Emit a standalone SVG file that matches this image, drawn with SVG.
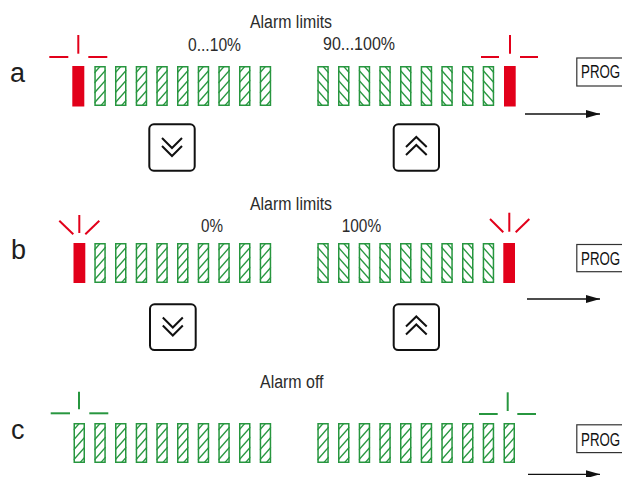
<svg xmlns="http://www.w3.org/2000/svg" xmlns:xlink="http://www.w3.org/1999/xlink" width="622" height="477" viewBox="0 0 622 477">
<style>
  text { font-family: "Liberation Sans", Arial, sans-serif; fill: #2b2b2b; }
  .lbl { font-size: 18px; }
  .big { font-size: 27px; fill: #1e1e1e; }
  .prog { font-size: 18px; fill: #111; }
  .lampR { stroke: #e2001a; stroke-width: 2; fill: none; }
  .lampG { stroke: #27963f; stroke-width: 2; fill: none; }
  .red { fill: #e2001a; }
  .btn { fill: #fff; stroke: #111; stroke-width: 2; }
  .chev { fill: none; stroke: #111; stroke-width: 2; }
  .pbox { fill: #fff; stroke: #333; stroke-width: 1.2; }
  .arr { stroke: #111; stroke-width: 1.3; fill: none; }
</style>
<defs>
  <clipPath id="bc"><rect x="0" y="0" width="11.5" height="40"/></clipPath>
  <g id="barF">
    <g clip-path="url(#bc)" stroke="#27963f" stroke-width="1.3">
      <line x1="0" y1="7" x2="11.5" y2="-6"/>
      <line x1="0" y1="17" x2="11.5" y2="4"/>
      <line x1="0" y1="27" x2="11.5" y2="14"/>
      <line x1="0" y1="37" x2="11.5" y2="24"/>
      <line x1="0" y1="47" x2="11.5" y2="34"/>
    </g>
    <rect x="0.75" y="0.75" width="10" height="38.5" fill="none" stroke="#27963f" stroke-width="1.5"/>
  </g>
  <g id="barB">
    <g clip-path="url(#bc)" stroke="#27963f" stroke-width="1.3">
      <line x1="0" y1="-6" x2="11.5" y2="7"/>
      <line x1="0" y1="4" x2="11.5" y2="17"/>
      <line x1="0" y1="14" x2="11.5" y2="27"/>
      <line x1="0" y1="24" x2="11.5" y2="37"/>
      <line x1="0" y1="34" x2="11.5" y2="47"/>
    </g>
    <rect x="0.75" y="0.75" width="10" height="38.5" fill="none" stroke="#27963f" stroke-width="1.5"/>
  </g>
  <marker id="ah" markerWidth="14" markerHeight="8" refX="14" refY="4" orient="auto" markerUnits="userSpaceOnUse">
    <path d="M0,0 L14,4 L0,8 Z" fill="#111"/>
  </marker>
</defs>

<!-- Row a -->
<g id="row-a">
  <text class="big" x="10" y="82">a</text>
  <text class="lbl" x="250" y="28" textLength="82" lengthAdjust="spacingAndGlyphs">Alarm limits</text>
  <text class="lbl" x="188" y="51" textLength="53" lengthAdjust="spacingAndGlyphs">0...10%</text>
  <text class="lbl" x="323" y="50" textLength="72" lengthAdjust="spacingAndGlyphs">90...100%</text>
  <g id="a-lamp-left">
    <line class="lampR" x1="49.3" y1="57" x2="68.3" y2="57"/>
    <line class="lampR" x1="78.3" y1="35" x2="78.3" y2="53.7"/>
    <line class="lampR" x1="88.3" y1="57" x2="107.3" y2="57"/>
    <rect class="red" x="72.3" y="66" width="12" height="40.5"/>
  </g>
  <g id="a-bars-left" transform="translate(0,66)">
    <use xlink:href="#barF" x="94.3"/><use xlink:href="#barF" x="115"/><use xlink:href="#barF" x="135.7"/>
    <use xlink:href="#barF" x="156.3"/><use xlink:href="#barF" x="177"/><use xlink:href="#barF" x="197.7"/>
    <use xlink:href="#barF" x="218.3"/><use xlink:href="#barF" x="239"/><use xlink:href="#barF" x="259.7"/>
  </g>
  <g id="a-bars-right" transform="translate(0,66)">
    <use xlink:href="#barB" x="317.3"/><use xlink:href="#barB" x="338"/><use xlink:href="#barB" x="358.7"/>
    <use xlink:href="#barB" x="379.3"/><use xlink:href="#barB" x="400"/><use xlink:href="#barB" x="420.7"/>
    <use xlink:href="#barB" x="441.3"/><use xlink:href="#barB" x="462"/><use xlink:href="#barB" x="482.7"/>
  </g>
  <g id="a-lamp-right">
    <line class="lampR" x1="481" y1="57" x2="499" y2="57"/>
    <line class="lampR" x1="510" y1="35" x2="510" y2="53.7"/>
    <line class="lampR" x1="520" y1="57" x2="538" y2="57"/>
    <rect class="red" x="504" y="66" width="11.7" height="40.5"/>
  </g>
  <g id="a-btn-down">
    <rect class="btn" x="149.3" y="124.3" width="45.4" height="46.4" rx="4.5"/>
    <polyline class="chev" points="162,138 172,148 182,138"/>
    <polyline class="chev" points="162,146 172,156 182,146"/>
  </g>
  <g id="a-btn-up">
    <rect class="btn" x="393.7" y="124.3" width="45.3" height="46.4" rx="4.5"/>
    <polyline class="chev" points="406,147 416.3,137 426.7,147"/>
    <polyline class="chev" points="406,155 416.3,145 426.7,155"/>
  </g>
  <g id="a-prog">
    <rect class="pbox" x="576.8" y="58" width="60" height="28"/>
    <text class="prog" transform="translate(581,78) scale(0.74,1)">PROG</text>
  </g>
</g>

<!-- Row b -->
<g id="row-b">
  <text class="big" x="11" y="259">b</text>
  <text class="lbl" x="250" y="210" textLength="82" lengthAdjust="spacingAndGlyphs">Alarm limits</text>
  <text class="lbl" x="201" y="232" textLength="22" lengthAdjust="spacingAndGlyphs">0%</text>
  <text class="lbl" x="341.7" y="232" textLength="39.5" lengthAdjust="spacingAndGlyphs">100%</text>
  <g id="b-lamp-left">
    <line class="lampR" x1="79.3" y1="215" x2="79.3" y2="233"/>
    <line class="lampR" x1="59.3" y1="220.7" x2="73.3" y2="234.3"/>
    <line class="lampR" x1="85.3" y1="234.3" x2="99.3" y2="220.7"/>
    <rect class="red" x="73.5" y="243" width="11.8" height="40"/>
  </g>
  <g id="b-bars-left" transform="translate(0,243)">
    <use xlink:href="#barF" x="94.3"/><use xlink:href="#barF" x="115"/><use xlink:href="#barF" x="135.7"/>
    <use xlink:href="#barF" x="156.3"/><use xlink:href="#barF" x="177"/><use xlink:href="#barF" x="197.7"/>
    <use xlink:href="#barF" x="218.3"/><use xlink:href="#barF" x="239"/><use xlink:href="#barF" x="259.7"/>
  </g>
  <g id="b-bars-right" transform="translate(0,243)">
    <use xlink:href="#barB" x="317.3"/><use xlink:href="#barB" x="338"/><use xlink:href="#barB" x="358.7"/>
    <use xlink:href="#barB" x="379.3"/><use xlink:href="#barB" x="400"/><use xlink:href="#barB" x="420.7"/>
    <use xlink:href="#barB" x="441.3"/><use xlink:href="#barB" x="462"/><use xlink:href="#barB" x="482.7"/>
  </g>
  <g id="b-lamp-right">
    <line class="lampR" x1="509.3" y1="212.7" x2="509.3" y2="231.7"/>
    <line class="lampR" x1="490" y1="219" x2="503.3" y2="232.3"/>
    <line class="lampR" x1="515.7" y1="232.3" x2="529.3" y2="219"/>
    <rect class="red" x="503.3" y="243" width="11.7" height="40"/>
  </g>
  <g id="b-btn-down">
    <rect class="btn" x="150" y="304.3" width="45.7" height="45.7" rx="4.5"/>
    <polyline class="chev" points="162.8,317.5 172.8,327.5 182.8,317.5"/>
    <polyline class="chev" points="162.8,325.5 172.8,335.5 182.8,325.5"/>
  </g>
  <g id="b-btn-up">
    <rect class="btn" x="393.7" y="304.3" width="45.3" height="45.7" rx="4.5"/>
    <polyline class="chev" points="406,326.5 416.3,316.5 426.7,326.5"/>
    <polyline class="chev" points="406,334.5 416.3,324.5 426.7,334.5"/>
  </g>
  <g id="b-prog">
    <rect class="pbox" x="576.8" y="244.5" width="60" height="27.2"/>
    <text class="prog" transform="translate(581,265) scale(0.74,1)">PROG</text>
  </g>
</g>

<!-- Row c -->
<g id="row-c">
  <text class="big" x="11" y="439">c</text>
  <text class="lbl" x="260" y="388" textLength="63.5" lengthAdjust="spacingAndGlyphs">Alarm off</text>
  <g id="c-lamp-left">
    <line class="lampG" x1="50.7" y1="413.3" x2="70" y2="413.3"/>
    <line class="lampG" x1="79" y1="391.7" x2="79" y2="409.3"/>
    <line class="lampG" x1="89.3" y1="413.3" x2="108.3" y2="413.3"/>
  </g>
  <g id="c-bars-left" transform="translate(0,423)">
    <use xlink:href="#barF" x="73.5"/>
    <use xlink:href="#barF" x="94.3"/><use xlink:href="#barF" x="115"/><use xlink:href="#barF" x="135.7"/>
    <use xlink:href="#barF" x="156.3"/><use xlink:href="#barF" x="177"/><use xlink:href="#barF" x="197.7"/>
    <use xlink:href="#barF" x="218.3"/><use xlink:href="#barF" x="239"/><use xlink:href="#barF" x="259.7"/>
  </g>
  <g id="c-bars-right" transform="translate(0,423)">
    <use xlink:href="#barF" x="317.3"/><use xlink:href="#barF" x="338"/><use xlink:href="#barF" x="358.7"/>
    <use xlink:href="#barF" x="379.3"/><use xlink:href="#barF" x="400"/><use xlink:href="#barF" x="420.7"/>
    <use xlink:href="#barF" x="441.3"/><use xlink:href="#barF" x="462"/><use xlink:href="#barF" x="482.7"/>
    <use xlink:href="#barF" x="503.5"/>
  </g>
  <g id="c-lamp-right">
    <line class="lampG" x1="479" y1="414" x2="497.7" y2="414"/>
    <line class="lampG" x1="507.7" y1="392.3" x2="507.7" y2="411"/>
    <line class="lampG" x1="517.3" y1="414" x2="536" y2="414"/>
  </g>
  <g id="c-prog">
    <rect class="pbox" x="576.8" y="424.8" width="60" height="27.8"/>
    <text class="prog" transform="translate(581,446) scale(0.74,1)">PROG</text>
  </g>
</g>

<!-- Connectors -->
<g id="connectors">
  <line class="arr" x1="525" y1="114" x2="600" y2="114" marker-end="url(#ah)"/>
  <line class="arr" x1="527" y1="299" x2="600" y2="299" marker-end="url(#ah)"/>
  <line class="arr" x1="528" y1="474.3" x2="600" y2="474.3" marker-end="url(#ah)"/>
</g>
</svg>
